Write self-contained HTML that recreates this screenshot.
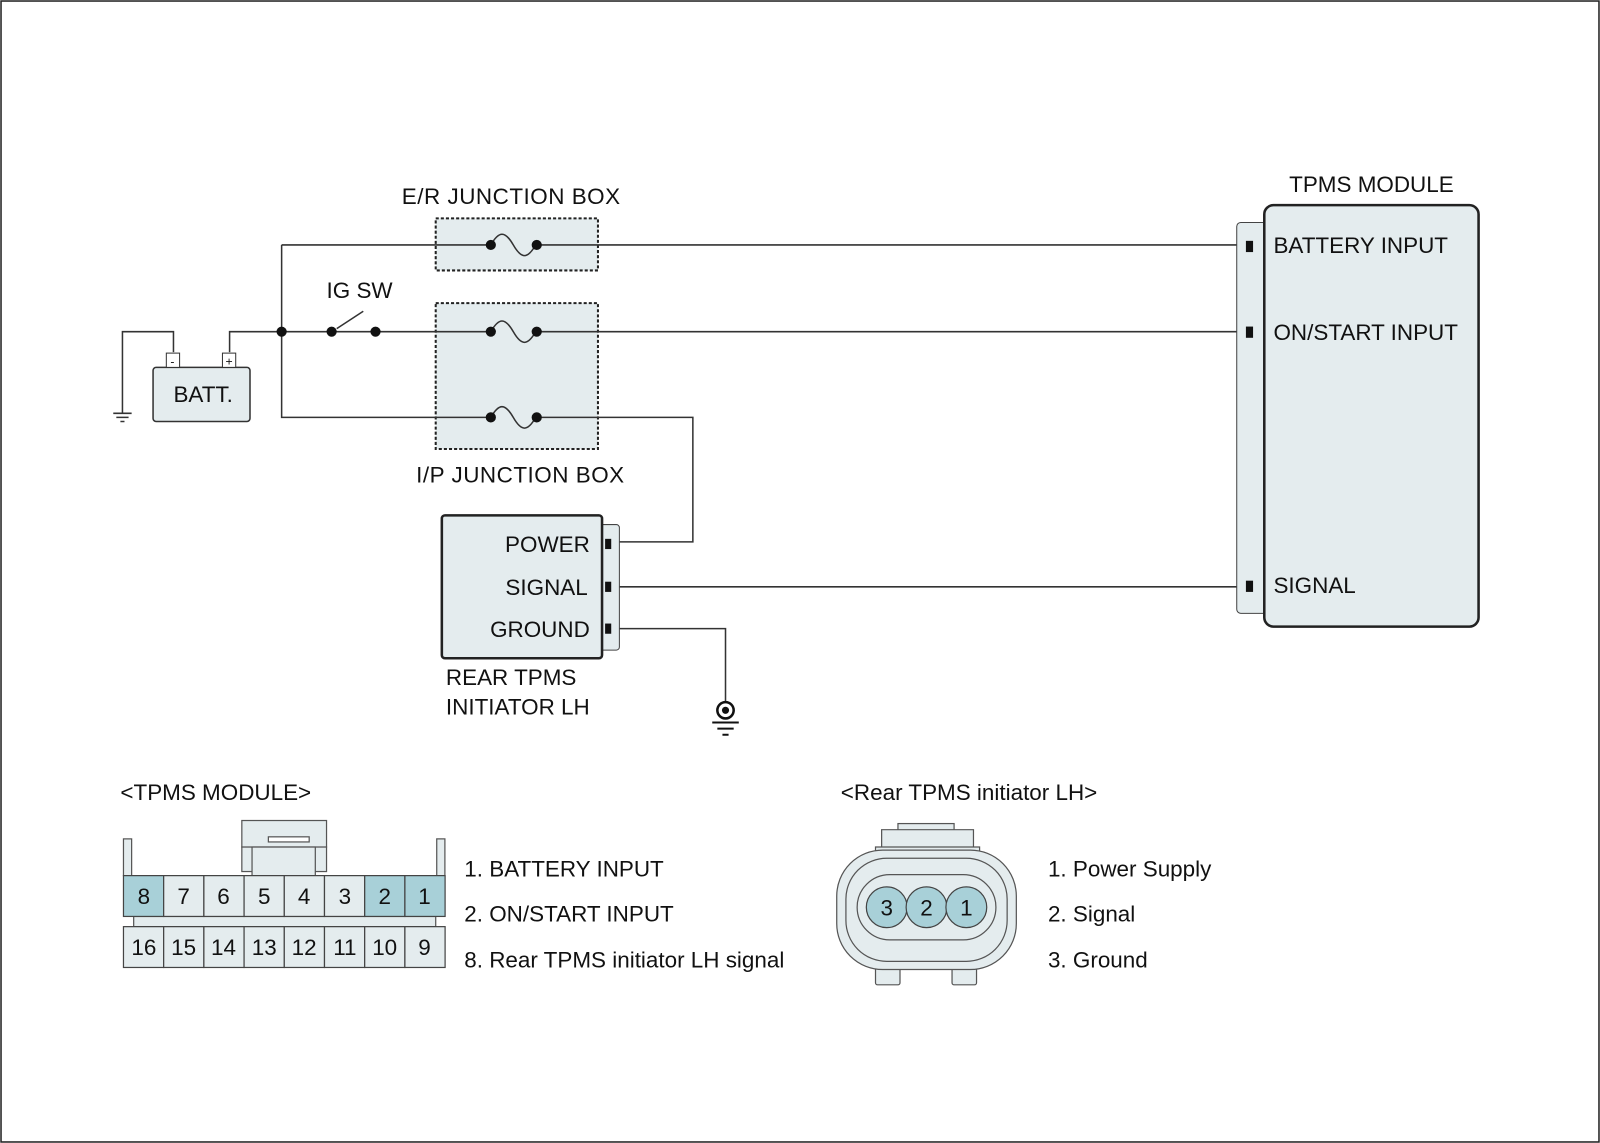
<!DOCTYPE html>
<html><head><meta charset="utf-8"><style>html,body{margin:0;padding:0;background:#fff}svg{display:block}text{font-family:"Liberation Sans",Arial,sans-serif;fill:#111}</style></head>
<body>
<svg width="1600" height="1143" viewBox="0 0 1568 1120" preserveAspectRatio="none" xmlns="http://www.w3.org/2000/svg">
<rect x="1" y="1" width="1566" height="1118" fill="#fff" stroke="#222" stroke-width="1.5"/>
<g font-size="22">
<rect x="427" y="214" width="159" height="51" fill="#e4ecee" stroke="#222" stroke-width="2" stroke-dasharray="3,2"/>
<rect x="427" y="297" width="159" height="143" fill="#e4ecee" stroke="#222" stroke-width="2" stroke-dasharray="3,2"/>
<text x="501" y="200" text-anchor="middle" letter-spacing="0.5">E/R JUNCTION BOX</text>
<text x="510" y="473" text-anchor="middle" letter-spacing="0.5">I/P JUNCTION BOX</text>
<text x="320" y="292">IG SW</text>
<g stroke="#333" stroke-width="1.5" fill="none">
<path d="M276,240H481 M276,240V409H481 M225,345V325H481"/>
<path d="M170,345V325H120V405"/>
<path d="M526,240H1222 M526,325H1222 M526,409H679V531H598 M598,575H1222 M598,616H711V688"/>
<path d="M330,322L356,305"/>
<path d="M481,240c8,-14 14,-14 22,0s14,14 22,0 M481,325c8,-14 14,-14 22,0s14,14 22,0 M481,409c8,-14 14,-14 22,0s14,14 22,0"/>
<path d="M111,405H129 M114,409H126 M118,413H122"/>
</g>
<g fill="#111">
<circle cx="276" cy="325" r="5"/><circle cx="325" cy="325" r="5"/><circle cx="368" cy="325" r="5"/>
<circle cx="481" cy="240" r="5"/><circle cx="526" cy="240" r="5"/>
<circle cx="481" cy="325" r="5"/><circle cx="526" cy="325" r="5"/>
<circle cx="481" cy="409" r="5"/><circle cx="526" cy="409" r="5"/>
</g>
<rect x="150" y="360" width="95" height="53" rx="3" fill="#e4ecee" stroke="#333" stroke-width="1.5"/>
<rect x="163" y="346" width="13" height="14" fill="#fff" stroke="#333"/>
<rect x="218" y="346" width="13" height="14" fill="#fff" stroke="#333"/>
<text x="169" y="358" font-size="12" text-anchor="middle">-</text>
<text x="224.5" y="358" font-size="12" text-anchor="middle">+</text>
<text x="170" y="394">BATT.</text>
<rect x="588" y="514" width="19" height="123" rx="3" fill="#e4ecee" stroke="#444"/>
<rect x="433" y="505" width="157" height="140" rx="3" fill="#e4ecee" stroke="#222" stroke-width="2.5"/>
<g fill="#111"><rect x="593" y="528" width="6" height="10"/><rect x="593" y="570" width="6" height="10"/><rect x="593" y="611" width="6" height="10"/></g>
<text x="578" y="541" text-anchor="end">POWER</text>
<text x="576" y="583" text-anchor="end">SIGNAL</text>
<text x="578" y="624" text-anchor="end">GROUND</text>
<text x="437" y="671">REAR TPMS</text>
<text x="437" y="700">INITIATOR LH</text>
<circle cx="711" cy="696" r="8" fill="#fff" stroke="#111" stroke-width="2.5"/><circle cx="711" cy="696" r="3.5" fill="#111"/>
<g stroke="#111" stroke-width="2"><path d="M698,708H724 M703,714H719 M708,720H714"/></g>
<rect x="1212" y="218" width="30" height="383" rx="4" fill="#e4ecee" stroke="#444"/>
<rect x="1239" y="201" width="210" height="413" rx="9" fill="#e4ecee" stroke="#222" stroke-width="2.5"/>
<g fill="#111"><rect x="1221" y="236" width="7" height="11"/><rect x="1221" y="320" width="7" height="11"/><rect x="1221" y="569" width="7" height="11"/></g>
<text x="1344" y="188" text-anchor="middle">TPMS MODULE</text>
<text x="1248" y="248">BATTERY INPUT</text>
<text x="1248" y="333">ON/START INPUT</text>
<text x="1248" y="581">SIGNAL</text>
<text x="118" y="784">&lt;TPMS MODULE&gt;</text>
<g stroke="#555" stroke-width="1.2" fill="#e4ecee">
<rect x="121" y="822" width="8" height="36"/><rect x="428" y="822" width="8" height="36"/>
<rect x="237" y="804" width="83" height="26"/><rect x="237" y="830" width="83" height="24"/>
<rect x="247" y="830" width="62" height="28"/><rect x="263" y="820" width="40" height="5" fill="#fff"/>
<rect x="131" y="898" width="296" height="10"/>
</g>
<g stroke="#444" stroke-width="1.2">
<rect x="121" y="858" width="39.4" height="40" fill="#a8d0d8"/><rect x="160.4" y="858" width="39.4" height="40" fill="#e4ecee"/>
<rect x="199.8" y="858" width="39.4" height="40" fill="#e4ecee"/><rect x="239.2" y="858" width="39.4" height="40" fill="#e4ecee"/>
<rect x="278.6" y="858" width="39.4" height="40" fill="#e4ecee"/><rect x="318" y="858" width="39.4" height="40" fill="#e4ecee"/>
<rect x="357.4" y="858" width="39.4" height="40" fill="#a8d0d8"/><rect x="396.8" y="858" width="39.4" height="40" fill="#a8d0d8"/>
<rect x="121" y="908" width="39.4" height="40" fill="#e4ecee"/><rect x="160.4" y="908" width="39.4" height="40" fill="#e4ecee"/>
<rect x="199.8" y="908" width="39.4" height="40" fill="#e4ecee"/><rect x="239.2" y="908" width="39.4" height="40" fill="#e4ecee"/>
<rect x="278.6" y="908" width="39.4" height="40" fill="#e4ecee"/><rect x="318" y="908" width="39.4" height="40" fill="#e4ecee"/>
<rect x="357.4" y="908" width="39.4" height="40" fill="#e4ecee"/><rect x="396.8" y="908" width="39.4" height="40" fill="#e4ecee"/>
</g>
<g font-size="22" text-anchor="middle">
<text x="141" y="886">8</text><text x="180" y="886">7</text><text x="219" y="886">6</text><text x="259" y="886">5</text><text x="298" y="886">4</text><text x="338" y="886">3</text><text x="377" y="886">2</text><text x="416" y="886">1</text>
<text x="141" y="936">16</text><text x="180" y="936">15</text><text x="219" y="936">14</text><text x="259" y="936">13</text><text x="298" y="936">12</text><text x="338" y="936">11</text><text x="377" y="936">10</text><text x="416" y="936">9</text>
</g>
<text x="455" y="859">1. BATTERY INPUT</text>
<text x="455" y="903">2. ON/START INPUT</text>
<text x="455" y="948">8. Rear TPMS initiator LH signal</text>
<text x="824" y="784">&lt;Rear TPMS initiator LH&gt;</text>
<g stroke="#555" stroke-width="1.2" fill="#e4ecee">
<rect x="880" y="807" width="55" height="10"/>
<path d="M864,813H954V845H864Z"/>
<path d="M858,830H960V852H858Z"/>
<rect x="858" y="935" width="24" height="30" rx="2"/><rect x="933" y="935" width="24" height="30" rx="2"/>
<rect x="820" y="833" width="176" height="117" rx="45"/>
<rect x="829" y="841" width="158" height="101" rx="40"/>
<rect x="840" y="857" width="136" height="64" rx="32"/>
</g>
<g stroke="#444" stroke-width="1.2" fill="#a8d0d8">
<circle cx="869" cy="889" r="20"/><circle cx="908" cy="889" r="20"/><circle cx="947" cy="889" r="20"/>
</g>
<g font-size="22" text-anchor="middle"><text x="869" y="897">3</text><text x="908" y="897">2</text><text x="947" y="897">1</text></g>
<text x="1027" y="859">1. Power Supply</text>
<text x="1027" y="903">2. Signal</text>
<text x="1027" y="948">3. Ground</text>
</g>
</svg>
</body></html>
